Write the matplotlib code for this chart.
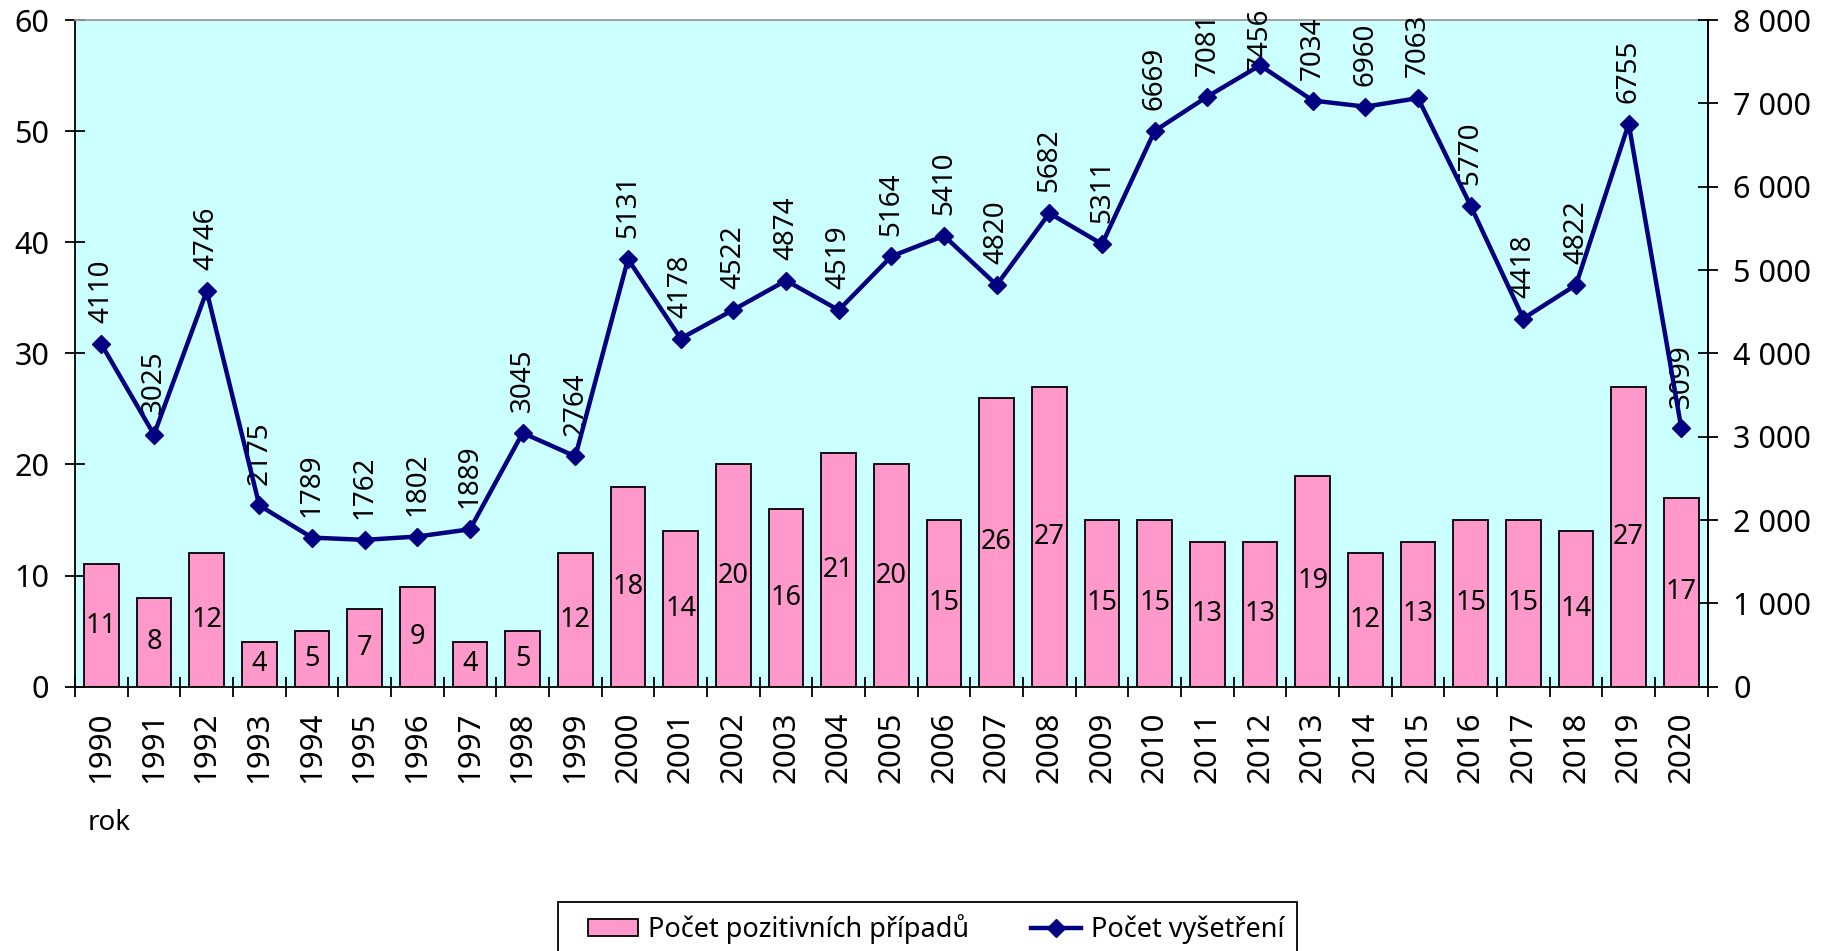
import matplotlib
matplotlib.use("Agg")
import matplotlib.pyplot as plt
from matplotlib.patches import Patch, Rectangle
from matplotlib.lines import Line2D
import numpy as np

plt.rcParams['font.family'] = ['Noto Sans', 'DejaVu Sans']

years = list(range(1990, 2021))
positives = [11, 8, 12, 4, 5, 7, 9, 4, 5, 12, 18, 14, 20, 16, 21, 20, 15, 26, 27,
             15, 15, 13, 13, 19, 12, 13, 15, 15, 14, 27, 17]
exams = [4110, 3025, 4746, 2175, 1789, 1762, 1802, 1889, 3045, 2764, 5131, 4178,
         4522, 4874, 4519, 5164, 5410, 4820, 5682, 5311, 6669, 7081, 7456, 7034,
         6960, 7063, 5770, 4418, 4822, 6755, 3099]
left_ticks = [0, 10, 20, 30, 40, 50, 60]
right_ticks = [0, 1000, 2000, 3000, 4000, 5000, 6000, 7000, 8000]

bar_label = "Počet pozitivních případů"
line_label = "Počet vyšetření"
x_title = "rok"

BAR_COLOR = '#FF99CC'
LINE_COLOR = '#000080'

W, H = 1832, 951
fig = plt.figure(figsize=(W / 100, H / 100), dpi=100)
left, right, top, bottom = 75 / W, 1707.7 / W, 1 - 20 / H, 1 - 686.7 / H
ax = fig.add_axes([left, bottom, right - left, top - bottom])
ax.set_facecolor('#CCFFFF')

x = np.arange(len(years))
ax.bar(x, positives, width=0.66, color=BAR_COLOR, edgecolor='black', linewidth=1.3, zorder=2)
for xi, v in zip(x, positives):
    ax.text(xi, v / 2, str(v), ha='center', va='center', fontsize=19.5, color='black', zorder=3)

ax.set_xlim(-0.5, len(years) - 0.5)
ax.set_ylim(0, 60)
ax.set_yticks(left_ticks)
ax.set_yticklabels([str(t) for t in left_ticks], fontsize=22)
ax.tick_params(axis='y', direction='inout', length=15, width=1.3, pad=11)

ax.set_xticks(x)
ax.set_xticklabels([str(y) for y in years], rotation=90, fontsize=22.5)
ax.tick_params(axis='x', which='major', length=0, pad=18)
ax.set_xticks(np.arange(-0.5, len(years), 1), minor=True)
ax.tick_params(axis='x', which='minor', direction='inout', length=15, width=1.3)

for s in ['left', 'bottom', 'right']:
    ax.spines[s].set_color('black')
    ax.spines[s].set_linewidth(1.3)
ax.spines['top'].set_color('#999999')
ax.spines['top'].set_linewidth(1.3)

ax2 = ax.twinx()
ax2.plot(x, exams, color=LINE_COLOR, linewidth=3.2, marker='D', markersize=9.5,
         markeredgewidth=1, zorder=4)
labels = []
for xi, v in zip(x, exams):
    t = ax2.annotate(str(v), (xi, v), xytext=(0, 15), textcoords='offset points',
                     rotation=90, ha='center', va='bottom', fontsize=20, color='black',
                     annotation_clip=False)
    labels.append(t)
ax2.set_ylim(0, 8000)
ax2.set_yticks(right_ticks)
ax2.set_yticklabels([f"{t:,}".replace(",", " ") for t in right_ticks], fontsize=22)
ax2.tick_params(axis='y', direction='inout', length=15, width=1.3, pad=11)
for s in ['left', 'bottom', 'top']:
    ax2.spines[s].set_visible(False)
ax2.spines['right'].set_color('black')
ax2.spines['right'].set_linewidth(1.3)

fig.text(88 / W, 1 - 823 / H, x_title, fontsize=20, ha='left', va='center')

# legend box (frame extends past the bottom edge as in the reference)
fig.patches.append(Rectangle((558 / W, 1 - 990 / H), (1297 - 558) / W, (990 - 902) / H,
                             transform=fig.transFigure, facecolor='white',
                             edgecolor='black', linewidth=1.3, zorder=1))
handles = [Patch(facecolor=BAR_COLOR, edgecolor='black', linewidth=1.3),
           Line2D([0], [0], color=LINE_COLOR, linewidth=3.2, marker='D', markersize=9.5)]
leg = fig.legend(handles, [bar_label, line_label], loc='center',
                 bbox_to_anchor=(936 / W, 1 - 929 / H), ncol=2, fontsize=19.5,
                 frameon=False, handlelength=1.85, handleheight=0.6,
                 handletextpad=0.35, columnspacing=2.3, borderpad=0, borderaxespad=0)
leg.set_zorder(2)

# keep labels inside the figure (like the reference where the top label is pushed down)
fig.canvas.draw()
r = fig.canvas.get_renderer()
for t in labels:
    bb = t.get_window_extent(r)
    limit = H - 8
    if bb.y1 > limit:
        dx, dy = t.xyann
        t.xyann = (dx, dy - (bb.y1 - limit) * 72 / 100)

fig.savefig("out.png", dpi=100)
